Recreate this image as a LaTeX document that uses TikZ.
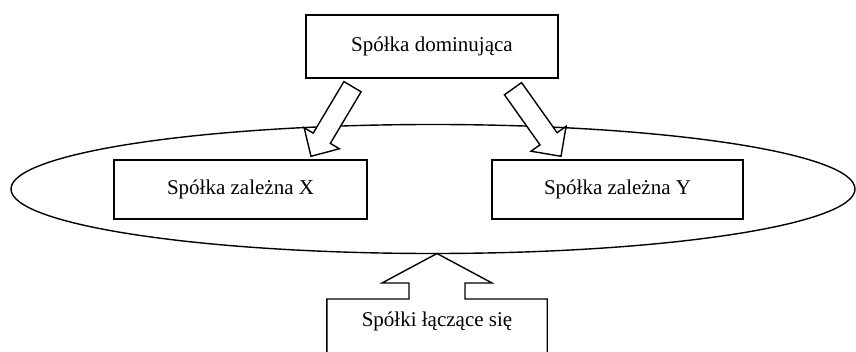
\documentclass[tikz,border=0pt]{standalone}
\usepackage{fontspec}
\setmainfont{Liberation Serif}
\usetikzlibrary{calc,shapes.geometric}
\tikzset{
  box/.style={draw, line width=1.4pt, fill=white, inner sep=0pt, font=\fontsize{21}{25}\selectfont},
  blockarrow/.style={draw, line width=1.4pt, fill=white, line join=miter},
  outline/.style={draw, line width=1.4pt, line join=miter},
  ring/.style={ellipse, draw, line width=1.4pt, inner sep=0pt, outer sep=0pt},
}
\newcommand\blockarr[5]{% #1 start, #2 tip, #3 half shaft, #4 half head, #5 head length
  \coordinate (babase) at ($(#2)!#5!(#1)$);
  \draw[blockarrow] ($(#1)!#3!90:(#2)$) -- ($(babase)!#3!-90:(#1)$)
    -- ($(babase)!#4!-90:(#1)$) -- (#2) -- ($(babase)!#4!90:(#1)$)
    -- ($(babase)!#3!90:(#1)$) -- ($(#1)!#3!-90:(#2)$) -- cycle;
}
\begin{document}
\begin{tikzpicture}[x=1pt,y=-1pt]
\clip (0,0) rectangle (856,352);
\useasboundingbox (0,0) rectangle (856,352);

\node[ring, minimum width=844pt, minimum height=129pt] (group) at (433,189) {};

\node[box, minimum width=252pt, minimum height=63pt] (dom) at (432,46.5) {Spółka dominująca};
\node[box, minimum width=253pt, minimum height=59pt] (subx) at (240.5,189.5) {Spółka zależna X};
\node[box, minimum width=251pt, minimum height=59pt] (suby) at (617.5,189.5) {Spółka zależna Y};

% arrows from the dominant company
\path (dom.south) ++(-79.5,8) coordinate (s1);
\path (subx.north) ++(70.5,-3) coordinate (t1);
\path (dom.south) ++(81,10) coordinate (s2);
\path (suby.north) ++(-56.5,-3) coordinate (t2);
\blockarr{s1}{t1}{10pt}{20.5pt}{21pt}
\blockarr{s2}{t2}{10.5pt}{21.5pt}{21.5pt}

% merging companies with block arrow
\node[inner sep=0pt, text height=27pt, text depth=50pt, minimum width=220pt,
      anchor=north, font=\fontsize{21}{25}\selectfont] (merge) at (437,299) {Spółki łączące się};
\coordinate (mtip) at (merge.north |- group.south);
\path (merge.north) ++(0,-16) coordinate (mhb);
\draw[outline] (merge.south west) -- (merge.north west)
  -- ($(merge.north)+(-28,0)$) -- ($(mhb)+(-28,0)$) -- ($(mhb)+(-55,0)$)
  -- (mtip)
  -- ($(mhb)+(55,0)$) -- ($(mhb)+(28,0)$) -- ($(merge.north)+(28,0)$)
  -- (merge.north east) -- (merge.south east);
\end{tikzpicture}
\end{document}
